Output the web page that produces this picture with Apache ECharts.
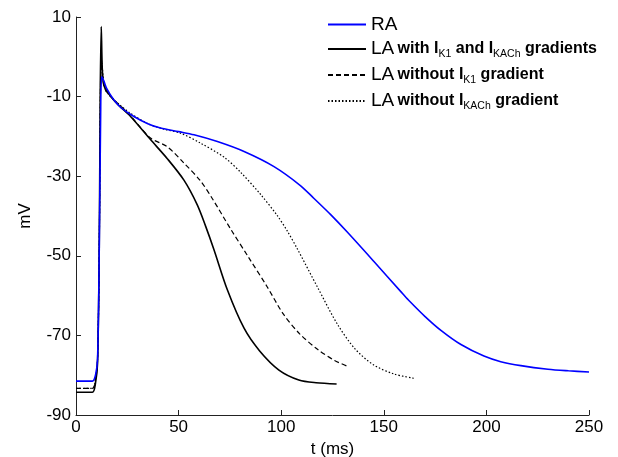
<!DOCTYPE html>
<html>
<head>
<meta charset="utf-8">
<script src="https://cdn.jsdelivr.net/npm/echarts@6/dist/echarts.min.js"></script>
<style>
html,body{margin:0;padding:0;background:#fff;}
#c{width:618px;height:457px;}
</style>
</head>
<body>
<div id="c"></div>
<script>
// ---- data (t in ms, V in mV) ----
var raT = [0, 8, 9.5, 10.5, 11.3, 12, 12.5, 13.5, 15, 18.4, 22, 28.2, 35, 41.2, 50, 57.5, 68.9, 81.9, 96.5, 109.5, 116, 124, 132.3, 145.3, 158.3, 162, 170, 178, 187.6, 198.8, 207, 216.8, 230, 240, 250];
var raV = [-81.5, -81.5, -80, -76, -50, -15, -5, -6, -8, -10.8, -12.8, -15, -16.8, -17.9, -18.8, -19.6, -21.3, -23.8, -27.6, -32.4, -35.6, -39.6, -44.1, -51.5, -59, -61.1, -65.2, -68.8, -72.3, -75.2, -76.6, -77.6, -78.5, -78.9, -79.2];

var laBothT = [0, 8, 9.5, 10.5, 11.3, 11.8, 12.3, 12.8, 13.5, 15, 16.8, 21, 26.6, 36.3, 44.5, 52.6, 59.1, 63.2, 67.2, 73.8, 81.9, 89.5, 98.9, 108.6, 117, 127];
var laBothV = [-84.3, -84.3, -82, -77, -50, -10, 7.6, -3, -7, -8.5, -9.9, -12.3, -15, -20.8, -25.6, -31.0, -37.2, -42.6, -48.4, -58.6, -68.2, -73.9, -78.7, -81.2, -81.9, -82.2];

var laNoK1T = [0, 8, 9.5, 10.5, 11.3, 12, 12.4, 13, 14, 16, 20, 26, 36.3, 44.5, 52.6, 60.7, 66.4, 75.4, 84, 93.3, 101, 109, 117.7, 126, 133];
var laNoK1V = [-83.3, -83.3, -81, -76, -50, -5, -0.7, -5, -8, -9.5, -11.5, -14.5, -20.4, -22.6, -26.7, -31.2, -35.6, -43.3, -50.3, -57.9, -64.6, -69.6, -73.5, -76.3, -77.9];

var laNoKAChT = [0, 8, 9.5, 10.5, 11.3, 12, 12.6, 13.2, 14, 16, 20, 26, 35, 43, 51, 60.7, 72.1, 80.2, 90, 98.1, 103, 107.9, 117.7, 127.4, 136, 145, 155, 165];
var laNoKAChV = [-83.3, -83.3, -81, -76, -50, -6, -1.5, -5, -8, -9.5, -11.5, -14, -16.8, -18.2, -19.2, -21.7, -25.2, -29, -34.6, -39.9, -43.8, -48.3, -57.9, -67.2, -73.4, -77.4, -79.7, -80.8];

var xTicks = [0, 50, 100, 150, 200, 250];
var yTicks = [-90, -70, -50, -30, -10, 10];

var seriesNames = ['RA', 'LA with I_K1 and I_KACh gradients', 'LA without I_K1 gradient', 'LA without I_KACh gradient'];

function pairs(t, v) { return t.map(function (x, i) { return [x, v[i]]; }); }

var FONT = '"Liberation Sans", Arial, sans-serif';

var legendFmt = {};
legendFmt[seriesNames[0]] = '{la|RA}';
legendFmt[seriesNames[1]] = '{la|LA} {b|with I}{s|K1}{b| and I}{s|KACh}{b| gradients}';
legendFmt[seriesNames[2]] = '{la|LA} {b|without I}{s|K1}{b| gradient}';
legendFmt[seriesNames[3]] = '{la|LA} {b|without I}{s|KACh}{b| gradient}';

var chart = echarts.init(document.getElementById('c'), null, {renderer: 'canvas'});
chart.setOption({
  animation: false,
  backgroundColor: '#fff',
  textStyle: {fontFamily: FONT},
  grid: {left: 76, right: 29, top: 17, bottom: 42, containLabel: false, outerBoundsMode: 'none'},
  legend: {
    orient: 'vertical',
    left: 322,
    top: 10,
    itemWidth: 38,
    itemHeight: 12,
    itemGap: 4,
    data: seriesNames,
    itemStyle: {opacity: 0, color: 'transparent', borderWidth: 0},
    formatter: function (n) { return legendFmt[n]; },
    textStyle: {
      color: '#000',
      fontFamily: FONT,
      rich: {
        la: {fontSize: 19, color: '#000', fontFamily: FONT, lineHeight: 22},
        b: {fontSize: 16, fontWeight: 'bold', color: '#000', fontFamily: FONT, lineHeight: 22},
        s: {fontSize: 10.5, color: '#000', fontFamily: FONT, lineHeight: 22, padding: [11, 0, 0, 0]}
      }
    }
  },
  xAxis: {
    type: 'value',
    min: 0, max: 250, interval: 50,
    name: 't (ms)',
    nameLocation: 'middle',
    nameGap: 21,
    nameTextStyle: {fontSize: 17, color: '#000', fontFamily: FONT},
    axisLine: {show: true, onZero: false, lineStyle: {color: '#222', width: 1}},
    axisTick: {show: true, inside: true, length: 5, lineStyle: {color: '#222'}},
    axisLabel: {fontSize: 17, color: '#000', margin: 4, fontFamily: FONT, customValues: xTicks},
    splitLine: {show: false}
  },
  yAxis: {
    type: 'value',
    min: -90, max: 10, interval: 20,
    name: 'mV',
    nameLocation: 'middle',
    nameGap: 42,
    nameRotate: 90,
    nameTextStyle: {fontSize: 17, color: '#000', fontFamily: FONT},
    axisLine: {show: true, onZero: false, lineStyle: {color: '#222', width: 1}},
    axisTick: {show: true, inside: true, length: 5, lineStyle: {color: '#222'}, customValues: yTicks},
    axisLabel: {fontSize: 17, color: '#000', margin: 5, fontFamily: FONT, customValues: yTicks},
    splitLine: {show: false}
  },
  series: [
    {name: seriesNames[0], type: 'line', data: pairs(raT, raV), showSymbol: false, symbol: 'none', smooth: 0.3,
     lineStyle: {color: '#0000ff', width: 1.6}, itemStyle: {color: '#0000ff'}, z: 5},
    {name: seriesNames[1], type: 'line', data: pairs(laBothT, laBothV), showSymbol: false, symbol: 'none', smooth: 0.3,
     lineStyle: {color: '#000', width: 1.6}, itemStyle: {color: '#000'}},
    {name: seriesNames[2], type: 'line', data: pairs(laNoK1T, laNoK1V), showSymbol: false, symbol: 'none', smooth: 0.3,
     lineStyle: {color: '#000', width: 1.2, type: [5, 3]}, itemStyle: {color: '#000'}},
    {name: seriesNames[3], type: 'line', data: pairs(laNoKAChT, laNoKAChV), showSymbol: false, symbol: 'none', smooth: 0.3,
     lineStyle: {color: '#000', width: 1.2, type: [1.5, 2]}, itemStyle: {color: '#000'}}
  ]
});
</script>
</body>
</html>
